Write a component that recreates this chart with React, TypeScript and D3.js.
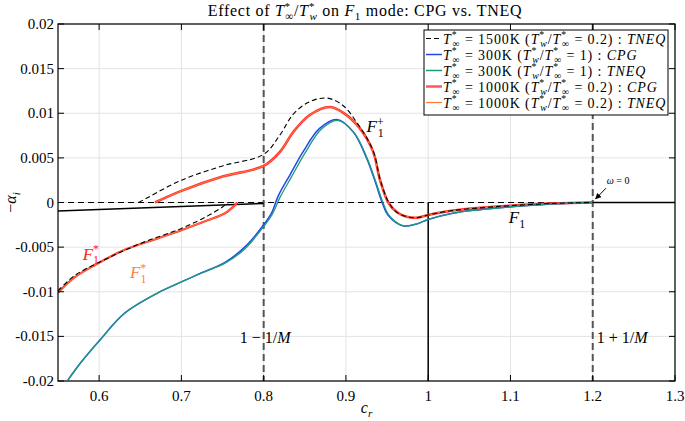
import React from 'react';
import * as d3 from 'd3';

const W = 685;
const H = 421;
const X0 = 58, X1 = 675, Y0 = 24, Y1 = 381;

const xTicks = [0.6, 0.7, 0.8, 0.9, 1.0, 1.1, 1.2, 1.3];
const xTickLabels = ['0.6', '0.7', '0.8', '0.9', '1', '1.1', '1.2', '1.3'];
const yTicks = [-0.02, -0.015, -0.01, -0.005, 0, 0.005, 0.01, 0.015, 0.02];
const yTickLabels = ['-0.02', '-0.015', '-0.01', '-0.005', '0', '0.005', '0.01', '0.015', '0.02'];

// 1500K TNEQ (black dashed)
const tneq1500Upper: [number, number][] = [
  [0.648, 0], [0.66, 0.0006], [0.7, 0.0025], [0.75, 0.0041], [0.8, 0.0054],
  [0.82, 0.0076], [0.836, 0.0099], [0.856, 0.0113], [0.877, 0.0117], [0.896, 0.0109],
  [0.913, 0.009], [0.933, 0.0058], [0.9415, 0.0026], [0.952, 0], [0.962, -0.0011],
  [0.974, -0.0016], [0.986, -0.0017], [1.0, -0.0014], [1.01, -0.0012], [1.03, -0.0009],
  [1.063, -0.0006], [1.099, -0.00036], [1.152, -0.0001], [1.2, 0],
];
const tneq1500Lower: [number, number][] = [
  [0.55, -0.0099], [0.57, -0.0082], [0.6, -0.0067], [0.65, -0.0046], [0.7, -0.0029],
  [0.732, -0.0015], [0.75, -0.0005], [0.757, 0],
];
// 300K CPG (blue)
const cpg300: [number, number][] = [
  [0.562, -0.0199], [0.578, -0.0179], [0.601, -0.0154], [0.631, -0.0124], [0.672, -0.0101],
  [0.7, -0.0089], [0.724, -0.0079], [0.753, -0.0067], [0.777, -0.005], [0.8, -0.0025],
  [0.81, -0.0011], [0.818, 0.0008], [0.832, 0.0031], [0.848, 0.0057], [0.868, 0.0083],
  [0.889, 0.0093], [0.909, 0.0079], [0.925, 0.005], [0.935, 0.0025], [0.944, 0],
  [0.951, -0.0014], [0.969, -0.0026], [0.986, -0.0024], [1.0, -0.0019], [1.03, -0.0012],
  [1.063, -0.0008], [1.099, -0.0005], [1.152, -0.00015], [1.2, 0],
];
// 300K TNEQ (green)
const tneq300: [number, number][] = [
  [0.562, -0.0199], [0.578, -0.0179], [0.601, -0.0154], [0.631, -0.0124], [0.672, -0.0101],
  [0.7, -0.0089], [0.724, -0.0079], [0.753, -0.0068], [0.777, -0.0052], [0.8, -0.0027],
  [0.81, -0.0014], [0.82, 0.0006], [0.834, 0.0029], [0.85, 0.0055], [0.87, 0.0082],
  [0.89, 0.0092], [0.91, 0.0078], [0.926, 0.0049], [0.936, 0.0024], [0.945, 0],
  [0.952, -0.0014], [0.969, -0.0026], [0.986, -0.0024], [1.0, -0.0019], [1.03, -0.0012],
  [1.063, -0.0008], [1.099, -0.0005], [1.152, -0.00015], [1.2, 0],
];
// 1000K CPG (red)
const cpg1000Upper: [number, number][] = [
  [0.668, 0], [0.7, 0.0013], [0.75, 0.0029], [0.8, 0.0041], [0.82, 0.0057],
  [0.836, 0.0079], [0.856, 0.0098], [0.88, 0.0107], [0.896, 0.0101], [0.917, 0.0083],
  [0.933, 0.0057], [0.9415, 0.0025], [0.9515, 0], [0.962, -0.0011], [0.974, -0.0016],
  [0.986, -0.0017], [1.0, -0.0014], [1.01, -0.0012], [1.03, -0.0009], [1.063, -0.0006],
  [1.099, -0.00036], [1.152, -0.0001], [1.2, 0],
];
const cpg1000Lower: [number, number][] = [
  [0.55, -0.0101], [0.57, -0.0084], [0.595, -0.007], [0.631, -0.0053], [0.672, -0.004],
  [0.7, -0.0031], [0.732, -0.002], [0.753, -0.0012], [0.765, -0.0003], [0.768, 0],
];
// 1000K TNEQ (orange)
const tneq1000Upper: [number, number][] = [
  [0.668, 0], [0.7, 0.0013], [0.75, 0.0029], [0.8, 0.0041], [0.82, 0.0057],
  [0.836, 0.0079], [0.856, 0.0098], [0.88, 0.0107], [0.896, 0.0101], [0.917, 0.0083],
  [0.933, 0.0057], [0.9415, 0.0025], [0.9515, 0], [0.962, -0.0011], [0.974, -0.0016],
  [0.986, -0.0017], [1.0, -0.0014], [1.01, -0.0012], [1.03, -0.0009], [1.063, -0.0006],
  [1.099, -0.00036], [1.152, -0.0001], [1.2, 0],
];
const tneq1000Lower: [number, number][] = [
  [0.55, -0.0101], [0.57, -0.0084], [0.595, -0.007], [0.631, -0.0053], [0.672, -0.004],
  [0.7, -0.0031], [0.732, -0.002], [0.753, -0.0012], [0.765, -0.0003], [0.768, 0],
];
// continuous spectrum / branch lines (black solid)
const branchLeft: [number, number][] = [[0.55, -0.00095], [0.8, -0.0001]];
const branchVertical: [number, number][] = [[1.0, 0], [1.0, -0.02]];
const branchRight: [number, number][] = [[1.2, 0], [1.3, 0]];

const sonicLines = [0.8, 1.2];

const COL_BLUE = '#2448e6';
const COL_GREEN = '#1c9a80';
const COL_RED = '#ff3030';
const COL_ORANGE = '#ff7a38';

type Seg = { t: string; it?: boolean; pos?: 'sup' | 'sub' | 'under' };

function MathText({ segs, size }: { segs: Seg[]; size: number }) {
  let cur = 0;
  const small = size * 0.7;
  return (
    <>
      {segs.map((s, i) => {
        const target = s.pos === 'sup' ? -size * 0.38 : s.pos === 'sub' || s.pos === 'under' ? size * 0.28 : 0;
        const dy = target - cur;
        cur = target;
        const dx = s.pos === 'under' ? -small * 0.5 : 0;
        return (
          <tspan
            key={i}
            dy={dy || undefined}
            dx={dx || undefined}
            fontStyle={s.it ? 'italic' : 'normal'}
            fontSize={s.pos ? small : size}
          >
            {s.t}
          </tspan>
        );
      })}
    </>
  );
}

const Tinf: Seg[] = [{ t: 'T', it: true }, { t: '*', pos: 'sup' }, { t: '∞', pos: 'under' }];
const Tw: Seg[] = [{ t: 'T', it: true }, { t: '*', pos: 'sup' }, { t: 'w', it: true, pos: 'under' }];

const legendItems = [
  { temp: '1500K', ratio: '0.2', model: 'TNEQ', color: '#000', dash: '5,3', width: 1.2 },
  { temp: '300K', ratio: '1', model: 'CPG', color: COL_BLUE, dash: undefined, width: 1.5 },
  { temp: '300K', ratio: '1', model: 'TNEQ', color: COL_GREEN, dash: undefined, width: 1.5 },
  { temp: '1000K', ratio: '0.2', model: 'CPG', color: '#ff5858', dash: undefined, width: 2.5 },
  { temp: '1000K', ratio: '0.2', model: 'TNEQ', color: COL_ORANGE, dash: undefined, width: 1.2 },
];

export default function App() {
  const x = d3.scaleLinear().domain([0.55, 1.3]).range([X0, X1]);
  const y = d3.scaleLinear().domain([-0.02, 0.02]).range([Y1, Y0]);
  const smooth = d3.line<[number, number]>().x((d) => x(d[0])).y((d) => y(d[1])).curve(d3.curveCatmullRom.alpha(0.5));
  const straight = d3.line<[number, number]>().x((d) => x(d[0])).y((d) => y(d[1]));

  const serif = "'Liberation Serif', 'DejaVu Serif', serif";
  const lgX = 424, lgY = 30, lgW = 244, lgH = 85, rowH = 16;

  return (
    <svg width={W} height={H} style={{ position: 'absolute', left: 0, top: 0, background: '#fff' }} fontFamily={serif}>
      <rect x={0} y={0} width={W} height={H} fill="#fff" />
      <defs>
        <clipPath id="plotclip">
          <rect x={X0} y={Y0} width={X1 - X0} height={Y1 - Y0} />
        </clipPath>
        <marker id="arrowhead" viewBox="0 0 10 10" refX="9" refY="5" markerWidth="6" markerHeight="6" orient="auto">
          <path d="M0,0 L10,5 L0,10 z" fill="#000" />
        </marker>
      </defs>
      {xTicks.map((t) => (
        <line key={'gx' + t} x1={x(t)} x2={x(t)} y1={Y0} y2={Y1} stroke="#e3e3e3" strokeWidth={1} />
      ))}
      {yTicks.map((t) => (
        <line key={'gy' + t} x1={X0} x2={X1} y1={y(t)} y2={y(t)} stroke="#e3e3e3" strokeWidth={1} />
      ))}
      <g clipPath="url(#plotclip)">
        <line x1={X0} x2={X1} y1={y(0)} y2={y(0)} stroke="#000" strokeWidth={1} strokeDasharray="6,4" />
        {sonicLines.map((v) => (
          <line key={'s' + v} x1={x(v)} x2={x(v)} y1={Y0} y2={Y1} stroke="#555" strokeWidth={2} strokeDasharray="7,4" />
        ))}
        <path d={straight(branchLeft) || ''} fill="none" stroke="#000" strokeWidth={1.5} />
        <path d={straight(branchVertical) || ''} fill="none" stroke="#000" strokeWidth={1.5} />
        <path d={straight(branchRight) || ''} fill="none" stroke="#000" strokeWidth={1.5} />
        <path d={smooth(cpg1000Upper) || ''} fill="none" stroke={COL_RED} strokeWidth={2.6} />
        <path d={smooth(cpg1000Lower) || ''} fill="none" stroke={COL_RED} strokeWidth={2.2} />
        <path d={smooth(tneq1000Upper) || ''} fill="none" stroke={COL_ORANGE} strokeWidth={1} />
        <path d={smooth(tneq1000Lower) || ''} fill="none" stroke={COL_ORANGE} strokeWidth={1} />
        <path d={smooth(cpg300) || ''} fill="none" stroke={COL_BLUE} strokeWidth={1.5} />
        <path d={smooth(tneq300) || ''} fill="none" stroke={COL_GREEN} strokeWidth={1.3} />
        <path d={smooth(tneq1500Upper) || ''} fill="none" stroke="#000" strokeWidth={1.1} strokeDasharray="5,3" />
        <path d={smooth(tneq1500Lower) || ''} fill="none" stroke="#000" strokeWidth={1.1} strokeDasharray="5,3" />
      </g>
      <rect x={X0} y={Y0} width={X1 - X0} height={Y1 - Y0} fill="none" stroke="#000" strokeWidth={1.2} />
      {xTicks.map((t) => (
        <g key={'tx' + t}>
          <line x1={x(t)} x2={x(t)} y1={Y1} y2={Y1 - 6} stroke="#000" strokeWidth={1} />
          <line x1={x(t)} x2={x(t)} y1={Y0} y2={Y0 + 6} stroke="#000" strokeWidth={1} />
        </g>
      ))}
      {yTicks.map((t) => (
        <g key={'ty' + t}>
          <line x1={X0} x2={X0 + 6} y1={y(t)} y2={y(t)} stroke="#000" strokeWidth={1} />
          <line x1={X1} x2={X1 - 6} y1={y(t)} y2={y(t)} stroke="#000" strokeWidth={1} />
        </g>
      ))}
      {xTicks.map((t, i) => (
        <text key={'lx' + t} x={x(t)} y={Y1 + 20} textAnchor="middle" fontSize={15}>
          {xTickLabels[i]}
        </text>
      ))}
      {yTicks.map((t, i) => (
        <text key={'ly' + t} x={X0 - 4} y={y(t) + 5} textAnchor="end" fontSize={15}>
          {yTickLabels[i]}
        </text>
      ))}
      <text x={(X0 + X1) / 2} y={413} textAnchor="middle" fontSize={16}>
        <MathText size={16} segs={[{ t: 'c', it: true }, { t: 'r', it: true, pos: 'sub' }]} />
      </text>
      <text transform={`translate(16, ${(Y0 + Y1) / 2}) rotate(-90)`} textAnchor="middle" fontSize={16}>
        <MathText size={16} segs={[{ t: '−' }, { t: 'α', it: true }, { t: 'i', it: true, pos: 'sub' }]} />
      </text>
      <text x={365} y={16} textAnchor="middle" fontSize={16} letterSpacing={0.7}>
        <MathText
          size={16}
          segs={[
            { t: 'Effect of ' },
            ...Tinf,
            { t: '/' },
            ...Tw,
            { t: ' on ' },
            { t: 'F', it: true },
            { t: '1', pos: 'sub' },
            { t: ' mode: CPG vs. TNEQ' },
          ]}
        />
      </text>
      <text x={x(0.925)} y={y(0.0079)} fontSize={17}>
        <MathText size={17} segs={[{ t: 'F', it: true }, { t: '+', pos: 'sup' }, { t: '1', pos: 'under' }]} />
      </text>
      <text x={x(1.098)} y={y(-0.0023)} fontSize={17}>
        <MathText size={17} segs={[{ t: 'F', it: true }, { t: '1', pos: 'sub' }]} />
      </text>
      <text x={x(0.58)} y={y(-0.0064)} fontSize={17} fill="#ff2020">
        <MathText size={17} segs={[{ t: 'F', it: true }, { t: '*', pos: 'sup' }, { t: '1', pos: 'under' }]} />
      </text>
      <text x={x(0.6375)} y={y(-0.0085)} fontSize={17} fill="#ff8040">
        <MathText size={17} segs={[{ t: 'F', it: true }, { t: '*', pos: 'sup' }, { t: '1', pos: 'under' }]} />
      </text>
      <text x={x(0.771)} y={y(-0.0157)} fontSize={16}>
        <MathText size={16} segs={[{ t: '1 − 1/' }, { t: 'M', it: true }]} />
      </text>
      <text x={x(1.205)} y={y(-0.0157)} fontSize={16}>
        <MathText size={16} segs={[{ t: '1 + 1/' }, { t: 'M', it: true }]} />
      </text>
      <text x={x(1.217)} y={y(0.0021)} fontSize={10}>
        <tspan fontStyle="italic">ω</tspan>
        <tspan> = 0</tspan>
      </text>
      <line
        x1={x(1.216)}
        y1={y(0.0016)}
        x2={x(1.2035)}
        y2={y(0.0004)}
        stroke="#000"
        strokeWidth={1}
        markerEnd="url(#arrowhead)"
      />
      <rect x={lgX} y={lgY} width={lgW} height={lgH} fill="#fff" stroke="#000" strokeWidth={1} />
      {legendItems.map((it, i) => {
        const cy = lgY + 8.5 + i * rowH;
        return (
          <g key={'lg' + i}>
            <line x1={lgX + 2} x2={lgX + 18} y1={cy} y2={cy} stroke={it.color} strokeWidth={it.width} strokeDasharray={it.dash} />
            <text x={lgX + 19} y={cy + 5} fontSize={14} letterSpacing={0.9}>
              <MathText
                size={14}
                segs={[
                  ...Tinf,
                  { t: ' = ' + it.temp + ' (' },
                  ...Tw,
                  { t: '/' },
                  ...Tinf,
                  { t: ' = ' + it.ratio + ') : ' },
                  { t: it.model, it: true },
                ]}
              />
            </text>
          </g>
        );
      })}
    </svg>
  );
}
